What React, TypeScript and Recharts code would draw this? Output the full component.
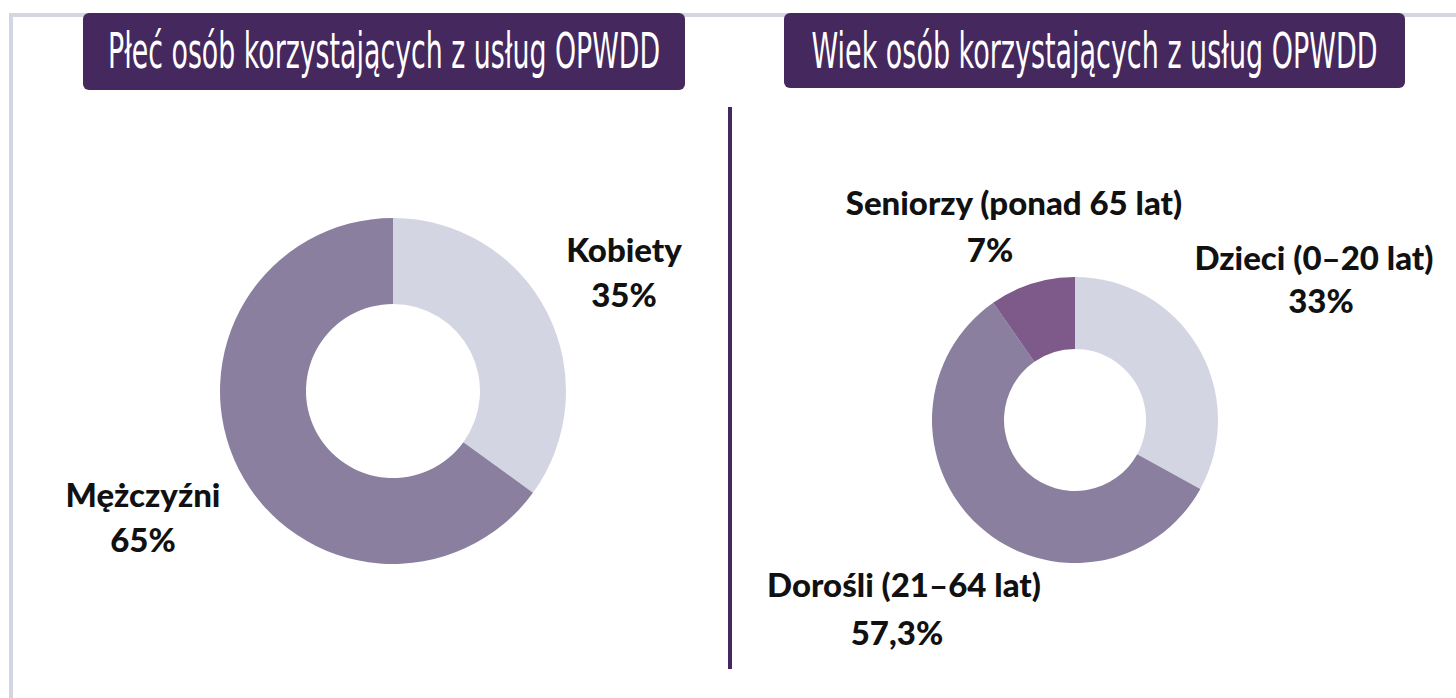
import { useLayoutEffect, useRef, useState } from 'react';
import { PieChart, Pie, Cell } from 'recharts';

const genderNames = ['Kobiety', 'Mężczyźni'];
const genderValues = [35, 65];
const genderLabels = ['35%', '65%'];

const ageNames = ['Dzieci (0–20 lat)', 'Dorośli (21–64 lat)', 'Seniorzy (ponad 65 lat)'];
const ageValues = [33, 57.3, 9.7];
const ageLabels = ['33%', '57,3%', '7%'];

const genderColors = ['#d4d5e3', '#8a7f9e'];
const ageColors = ['#d4d5e3', '#8a7f9e', '#7d5a89'];

const genderData = genderNames.map((name, i) => ({ name, value: genderValues[i], pct: genderLabels[i] }));
const ageData = ageNames.map((name, i) => ({ name, value: ageValues[i], pct: ageLabels[i] }));

// where each label block sits (center x, baseline of name, baseline of pct)
const genderLabelPos = [
  { x: 624, y1: 262, y2: 307 },
  { x: 143, y1: 507, y2: 552 },
];
const ageLabelPos = [
  { x: 1314, y1: 270, y2: 313, x2: 1321 },
  { x: 904, y1: 597, y2: 645, x2: 897 },
  { x: 1014, y1: 215, y2: 262, x2: 990 },
];

const labelFont = 'Lato, "Open Sans", sans-serif';

function makeLabel(pos: { x: number; y1: number; y2: number; x2?: number }[]) {
  return (props: any) => {
    const p = pos[props.index];
    return (
      <g key={'lbl' + props.index}>
        <text x={p.x} y={p.y1} textAnchor="middle" fontFamily={labelFont} fontWeight={900} fontSize={33} fill="#111">
          {props.payload.name}
        </text>
        <text x={p.x2 ?? p.x} y={p.y2} textAnchor="middle" fontFamily={labelFont} fontWeight={900} fontSize={33} fill="#111">
          {props.payload.pct}
        </text>
      </g>
    );
  };
}

function TitleBox({ x, w, h, text, textW }: { x: number; w: number; h: number; text: string; textW: number }) {
  const ref = useRef<SVGTextElement>(null);
  const [sx, setSx] = useState(0.6);
  useLayoutEffect(() => {
    if (ref.current) {
      const len = ref.current.getComputedTextLength();
      if (len > 0) setSx(textW / len);
    }
  }, [textW]);
  return (
    <div
      style={{
        position: 'absolute',
        left: x,
        top: 13,
        width: w,
        height: h,
        background: '#45285e',
        borderRadius: 6,
      }}
    >
      <svg width={w} height={h}>
        <g transform={`translate(${w / 2} 55) scale(${sx} 1)`}>
          <text
            ref={ref}
            x={0}
            y={0}
            textAnchor="middle"
            fontFamily='"DejaVu Sans Condensed", "Liberation Sans Narrow", sans-serif'
            fontSize={49}
            fill="#fff"
          >
            {text}
          </text>
        </g>
      </svg>
    </div>
  );
}

export default function App() {
  return (
    <div style={{ position: 'absolute', left: 0, top: 0, width: 1456, height: 698, background: '#fff', overflow: 'hidden' }}>
      <div style={{ position: 'absolute', left: 9, top: 13, width: 1447, height: 4, background: '#d4d5e3' }} />
      <div style={{ position: 'absolute', left: 9, top: 13, width: 4, height: 685, background: '#d4d5e3' }} />
      <div style={{ position: 'absolute', left: 728, top: 107, width: 4, height: 562, background: '#45285e' }} />

      <div style={{ position: 'absolute', left: 0, top: 0 }}>
        <PieChart width={1456} height={698} margin={{ top: 0, right: 0, bottom: 0, left: 0 }}>
          <Pie
            data={genderData}
            dataKey="value"
            cx={393}
            cy={391}
            innerRadius={87}
            outerRadius={173}
            startAngle={90}
            endAngle={-270}
            stroke="none"
            labelLine={false}
            label={makeLabel(genderLabelPos)}
            isAnimationActive={false}
          >
            {genderData.map((d, i) => (
              <Cell key={d.name} fill={genderColors[i]} />
            ))}
          </Pie>
          <Pie
            data={ageData}
            dataKey="value"
            cx={1075}
            cy={420}
            innerRadius={71}
            outerRadius={143}
            startAngle={90}
            endAngle={-270}
            stroke="none"
            labelLine={false}
            label={makeLabel(ageLabelPos)}
            isAnimationActive={false}
          >
            {ageData.map((d, i) => (
              <Cell key={d.name} fill={ageColors[i]} />
            ))}
          </Pie>
        </PieChart>
      </div>

      <TitleBox x={83} w={602} h={77} text="Płeć osób korzystających z usług OPWDD" textW={552} />
      <TitleBox x={784} w={621} h={75} text="Wiek osób korzystających z usług OPWDD" textW={566} />
    </div>
  );
}
